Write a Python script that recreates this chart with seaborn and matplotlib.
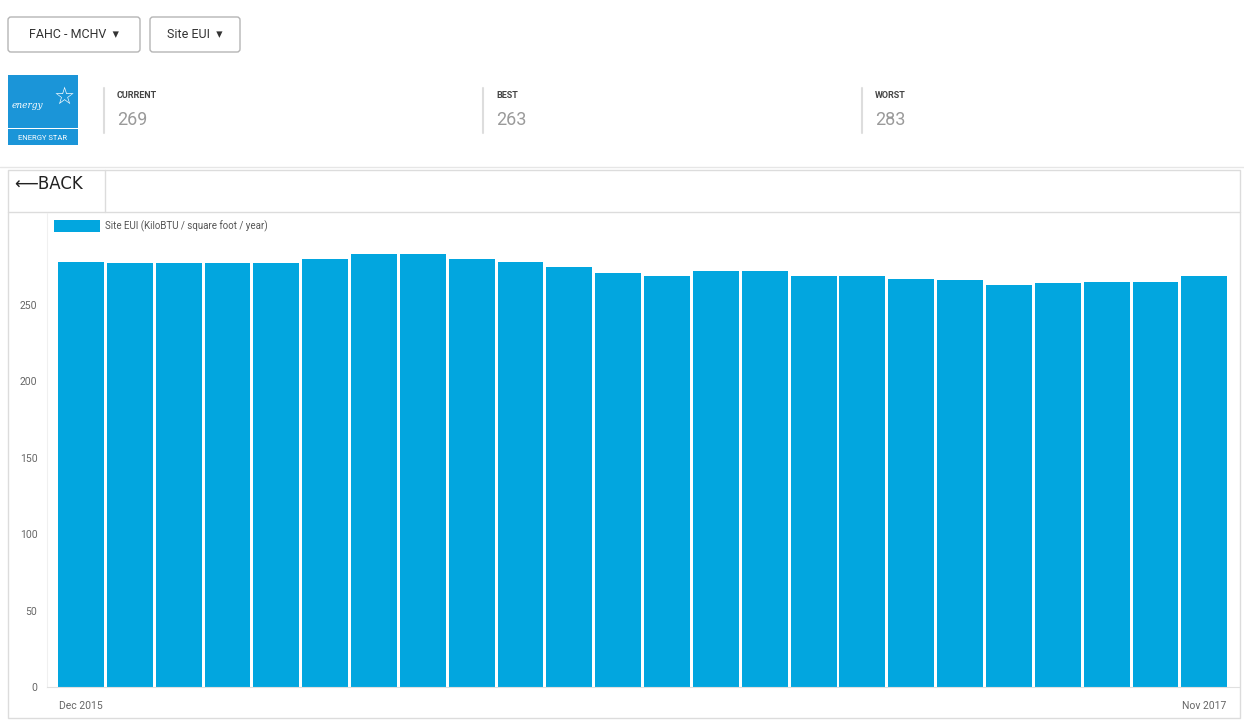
import matplotlib.pyplot as plt
import matplotlib.patches as mpatches
import seaborn as sns

# Monthly Site EUI values
months = ['Dec 2015', 'Jan 2016', 'Feb 2016', 'Mar 2016', 'Apr 2016', 'May 2016',
          'Jun 2016', 'Jul 2016', 'Aug 2016', 'Sep 2016', 'Oct 2016', 'Nov 2016',
          'Dec 2016', 'Jan 2017', 'Feb 2017', 'Mar 2017', 'Apr 2017', 'May 2017',
          'Jun 2017', 'Jul 2017', 'Aug 2017', 'Sep 2017', 'Oct 2017', 'Nov 2017']
site_eui = [278, 277, 277, 277, 277, 280, 283, 283, 280, 278, 275, 271,
            269, 272, 272, 269, 269, 267, 266, 263, 264, 265, 265, 269]
shown_ticks = ['Dec 2015', 'Nov 2017']
y_ticks = [0, 50, 100, 150, 200, 250]

stat_labels = ['CURRENT', 'BEST', 'WORST']
stat_values = ['269', '263', '283']
dropdowns = ['FAHC - MCHV  \u25BE', 'Site EUI  \u25BE']
series_name = 'Site EUI (KiloBTU / square foot / year)'

BAR_COLOR = '#02A6DF'

sns.set_style('white')
plt.rcParams['font.family'] = ['Roboto', 'DejaVu Sans']

W, H = 1244, 720
fig = plt.figure(figsize=(W / 100, H / 100), dpi=100)

# background layer in pixel coordinates for the dashboard chrome
bg = fig.add_axes([0, 0, 1, 1], zorder=0)
bg.set_xlim(0, W)
bg.set_ylim(H, 0)
bg.axis('off')

# dropdown buttons
for (x0, w), txt in zip([(8, 132), (150, 90)], dropdowns):
    bg.add_patch(mpatches.FancyBboxPatch((x0, 17), w, 35, boxstyle='round,pad=0,rounding_size=3',
                                         fc='white', ec='#b5b5b5', lw=1))
    bg.text(x0 + w / 2, 35, txt, ha='center', va='center', fontsize=9, color='#333333')

# energy star logo
bg.add_patch(mpatches.Rectangle((8, 75), 70, 70, fc='#1B95D8', ec='none'))
bg.text(12, 106, 'energy', ha='left', va='center', fontsize=6.5, color='white',
        style='italic', family='DejaVu Serif')
bg.text(64, 97, '\u2606', ha='center', va='center', fontsize=17, color='white', family='DejaVu Sans')
bg.add_patch(mpatches.Rectangle((8, 128), 70, 1, fc='white', ec='none'))
bg.text(43, 138, 'ENERGY STAR', ha='center', va='center', fontsize=5.5, color='white')

# headline stats
for x0, lab, val in zip([104, 483, 862], stat_labels, stat_values):
    bg.plot([x0, x0], [88, 133], color='#dddddd', lw=1.5)
    bg.text(x0 + 13, 95, lab, ha='left', va='center', fontsize=6.5, color='#444444', weight='bold')
    bg.text(x0 + 13, 120, val, ha='left', va='center', fontsize=13, color='#9a9a9a')

bg.plot([0, W], [167, 167], color='#e6e6e6', lw=1)

# chart panel and back button
bg.add_patch(mpatches.Rectangle((8, 170), 1232, 548, fc='white', ec='#dcdcdc', lw=1))
bg.plot([8, 1240], [212, 212], color='#dcdcdc', lw=1)
bg.plot([105, 105], [170, 212], color='#dcdcdc', lw=1)
bg.text(14, 184, '\u27F5BACK', ha='left', va='center', fontsize=12, color='#222222',
        family=['DejaVu Sans'])

# bar chart
ax = fig.add_axes([47 / W, 33 / H, (1239 - 47) / W, (687 - 213) / H], zorder=1)
ax.patch.set_alpha(0)
sns.barplot(x=months, y=site_eui, color=BAR_COLOR, saturation=1, width=0.94,
            linewidth=0, label=series_name, ax=ax)

ax.set_xlim(-0.695, 23.71)
ax.set_ylim(0, 310)
ax.set_yticks(y_ticks)
ax.set_xticks([months.index(t) for t in shown_ticks])
ax.set_xticklabels(shown_ticks)
ax.tick_params(axis='both', length=0, labelsize=7.5, labelcolor='#666666')
ax.tick_params(axis='y', pad=7)
ax.tick_params(axis='x', pad=10)
ax.set_xlabel('')
ax.set_ylabel('')

for side in ['top', 'right']:
    ax.spines[side].set_visible(False)
ax.spines['bottom'].set_color('#e0e0e0')
ax.spines['left'].set_color('#f0f0f0')

leg = ax.legend(loc='upper left', bbox_to_anchor=(0.0, 1.0), frameon=False, fontsize=7,
                handlelength=4.7, handleheight=1.5, handletextpad=0.6, borderaxespad=0.4,
                borderpad=0.3)
for t in leg.get_texts():
    t.set_color('#555555')

fig.savefig('out.png', dpi=100)
